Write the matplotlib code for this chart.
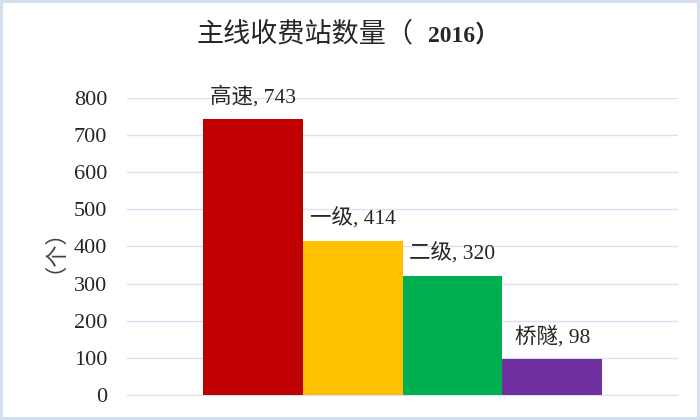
import matplotlib
matplotlib.use("Agg")
import matplotlib.pyplot as plt

# ── Data ──────────────────────────────────────────────────────────────────────
categories = ["高速", "一级", "二级", "桥隧"]
counts = [743, 414, 320, 98]
bar_colors = ["#C00000", "#FFC000", "#00B050", "#7030A0"]
y_ticks = [0, 100, 200, 300, 400, 500, 600, 700, 800]

FONT = ["Liberation Serif", "Noto Sans CJK SC", "DejaVu Sans"]
plt.rcParams["font.family"] = FONT

fig = plt.figure(figsize=(7, 4.2), dpi=100, edgecolor="#D6DFEE", linewidth=3)
ax = fig.add_axes([0.181, 0.0595, 0.788, 0.7075])

xs = list(range(len(categories)))
ax.bar(xs, counts, width=1.0, color=bar_colors, zorder=3)

for x, name, v in zip(xs, categories, counts):
    ax.annotate(f"{name}, {v}", (x, v), xytext=(0, 16), textcoords="offset points",
                ha="center", va="center", fontsize=15.5, color="#262626")

ax.set_xlim(-1.26, 4.26)
ax.set_ylim(0, 800)
ax.set_yticks(y_ticks)
ax.set_yticklabels([str(t) for t in y_ticks], fontsize=16, color="#262626")
ax.tick_params(axis="y", length=0, pad=14)
ax.set_xticks([])
ax.grid(axis="y", color="#D9E2F3", linewidth=1, zorder=0)
for s in ["top", "right", "left"]:
    ax.spines[s].set_visible(False)
ax.spines["bottom"].set_color("#D9E2F3")

fig.text(0.062, 0.43, "（个）", rotation=90, ha="center", va="center",
         fontsize=16, color="#404040")

# title: Chinese part regular, year bold
fig.text(0.281, 0.917, "主线收费站数量（", ha="left", va="center", fontsize=19.5,
         color="#262626")
fig.text(0.611, 0.917, "2016）", ha="left", va="center", fontsize=17,
         fontweight="bold", color="#262626")

fig.savefig("out.png", dpi=100, edgecolor=fig.get_edgecolor())
